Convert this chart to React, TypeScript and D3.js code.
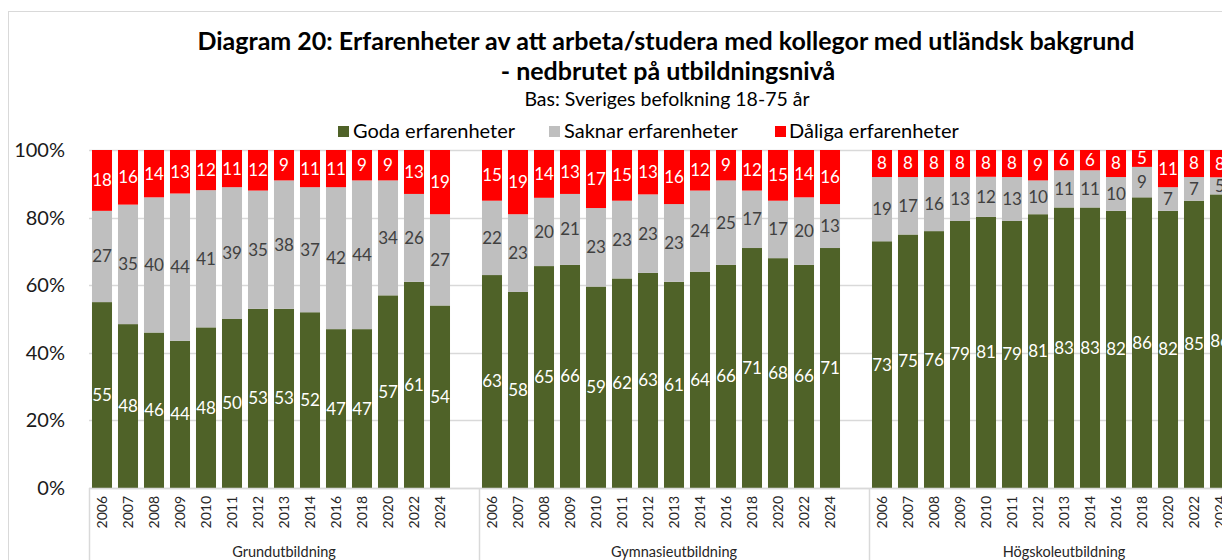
import React from "react";
import * as d3 from "d3";

const groups = ["Grundutbildning", "Gymnasieutbildning", "Högskoleutbildning"];
const years = ["2006", "2007", "2008", "2009", "2010", "2011", "2012", "2013", "2014", "2016", "2018", "2020", "2022", "2024"];

const grundGoda = [55, 48, 46, 44, 48, 50, 53, 53, 52, 47, 47, 57, 61, 54];
const grundSaknar = [27, 35, 40, 44, 41, 39, 35, 38, 37, 42, 44, 34, 26, 27];
const grundDaliga = [18, 16, 14, 13, 12, 11, 12, 9, 11, 11, 9, 9, 13, 19];

const gymGoda = [63, 58, 65, 66, 59, 62, 63, 61, 64, 66, 71, 68, 66, 71];
const gymSaknar = [22, 23, 20, 21, 23, 23, 23, 23, 24, 25, 17, 17, 20, 13];
const gymDaliga = [15, 19, 14, 13, 17, 15, 13, 16, 12, 9, 12, 15, 14, 16];

const hogGoda = [73, 75, 76, 79, 81, 79, 81, 83, 83, 82, 86, 82, 85, 86];
const hogSaknar = [19, 17, 16, 13, 12, 13, 10, 11, 11, 10, 9, 7, 7, 5];
const hogDaliga = [8, 8, 8, 8, 8, 8, 9, 6, 6, 8, 5, 11, 8, 8];

const seriesNames = ["Goda erfarenheter", "Saknar erfarenheter", "Dåliga erfarenheter"];
const seriesColors = ["#4F6228", "#BFBFBF", "#FF0000"];
const labelColors = ["#FFFFFF", "#404040", "#FFFFFF"];
const yTicks = [0, 0.2, 0.4, 0.6, 0.8, 1.0];

const groupData = [
  [grundGoda, grundSaknar, grundDaliga],
  [gymGoda, gymSaknar, gymDaliga],
  [hogGoda, hogSaknar, hogDaliga],
];

type Row = { key: string; group: string; year: string; vals: number[] };
const rows: Row[] = [];
const categories: string[] = [];
groups.forEach((g, gi) => {
  years.forEach((y, yi) => {
    const key = `${g}|${y}`;
    categories.push(key);
    rows.push({ key, group: g, year: y, vals: groupData[gi].map((s) => s[yi]) });
  });
  categories.push(`${g}|blank`);
});

const FONT = "Lato, 'Open Sans', sans-serif";

export default function App() {
  const W = 1222;
  const H = 560;
  const x0 = 89;
  const x1 = x0 + 26 * categories.length;
  const yTop = 150;
  const yBot = 488;

  const x = d3.scaleBand<string>().domain(categories).range([x0, x1]).paddingInner(0.23).paddingOuter(0.115);
  const y = d3.scaleLinear().domain([0, 1]).range([yBot, yTop]);
  const groupScale = d3.scaleBand<string>().domain(groups).range([x0, x1]);

  const legendItems = [
    { sx: 338, tx: 353 },
    { sx: 549, tx: 564 },
    { sx: 775, tx: 789 },
  ];

  return (
    <svg width={W} height={H} style={{ position: "absolute", left: 0, top: 0, fontFamily: FONT }}>
      <rect x={0} y={0} width={W} height={H} fill="#fff" />
      {/* frame */}
      <line x1={8.5} x2={8.5} y1={11} y2={H} stroke="#d9d9d9" />
      <line x1={8} x2={W} y1={11.5} y2={11.5} stroke="#d9d9d9" />

      {/* titles */}
      <text x={666} y={50} textAnchor="middle" fontSize={25} fontWeight={700} fill="#000">
        Diagram 20: Erfarenheter av att arbeta/studera med kollegor med utländsk bakgrund
      </text>
      <text x={668} y={80} textAnchor="middle" fontSize={25} fontWeight={700} fill="#000">
        - nedbrutet på utbildningsnivå
      </text>
      <text x={667} y={106} textAnchor="middle" fontSize={19.5} fill="#000">
        Bas: Sveriges befolkning 18-75 år
      </text>

      {/* legend */}
      {seriesNames.map((n, i) => (
        <g key={n}>
          <rect x={legendItems[i].sx} y={126} width={11} height={11} fill={seriesColors[i]} />
          <text x={legendItems[i].tx} y={138} fontSize={20} fill="#000">
            {n}
          </text>
        </g>
      ))}

      {/* gridlines */}
      {yTicks.map((t) => (
        <g key={t}>
          <line x1={x0} x2={W} y1={Math.round(y(t)) + 0.5} y2={Math.round(y(t)) + 0.5} stroke="#d9d9d9" strokeWidth={1.5} />
          <text x={65} y={y(t)} dy="0.35em" textAnchor="end" fontSize={20} fill="#1a1a1a">
            {d3.format(".0%")(t)}
          </text>
        </g>
      ))}

      {/* bars */}
      {rows.map((r) => {
        const total = d3.sum(r.vals);
        let acc = 0;
        return (
          <g key={r.key}>
            {r.vals.map((v, si) => {
              const a = acc / total;
              acc += v;
              const b = acc / total;
              const bx = x(r.key)!;
              return (
                <g key={si}>
                  <rect x={bx} y={y(b)} width={x.bandwidth()} height={y(a) - y(b)} fill={seriesColors[si]} />
                  <text
                    x={bx + x.bandwidth() / 2}
                    y={(y(a) + y(b)) / 2}
                    dy="0.35em"
                    textAnchor="middle"
                    fontSize={17}
                    fill={labelColors[si]}
                  >
                    {v}
                  </text>
                </g>
              );
            })}
          </g>
        );
      })}

      {/* category axis */}
      <line x1={x0} x2={W} y1={yBot + 0.5} y2={yBot + 0.5} stroke="#d9d9d9" strokeWidth={1.5} />
      {groups.map((g) => (
        <g key={g}>
          <line x1={groupScale(g)! + 0.5} x2={groupScale(g)! + 0.5} y1={yBot} y2={H} stroke="#d9d9d9" strokeWidth={1.5} />
          <text x={groupScale(g)! + groupScale.bandwidth() / 2} y={557} textAnchor="middle" fontSize={14.5} fill="#262626">
            {g}
          </text>
        </g>
      ))}
      {rows.map((r) => {
        const cx = x(r.key)! + x.bandwidth() / 2;
        return (
          <text
            key={r.key + "t"}
            transform={`translate(${cx},${496}) rotate(-90)`}
            textAnchor="end"
            dy="0.35em"
            fontSize={14}
            fill="#262626"
          >
            {r.year}
          </text>
        );
      })}
    </svg>
  );
}
